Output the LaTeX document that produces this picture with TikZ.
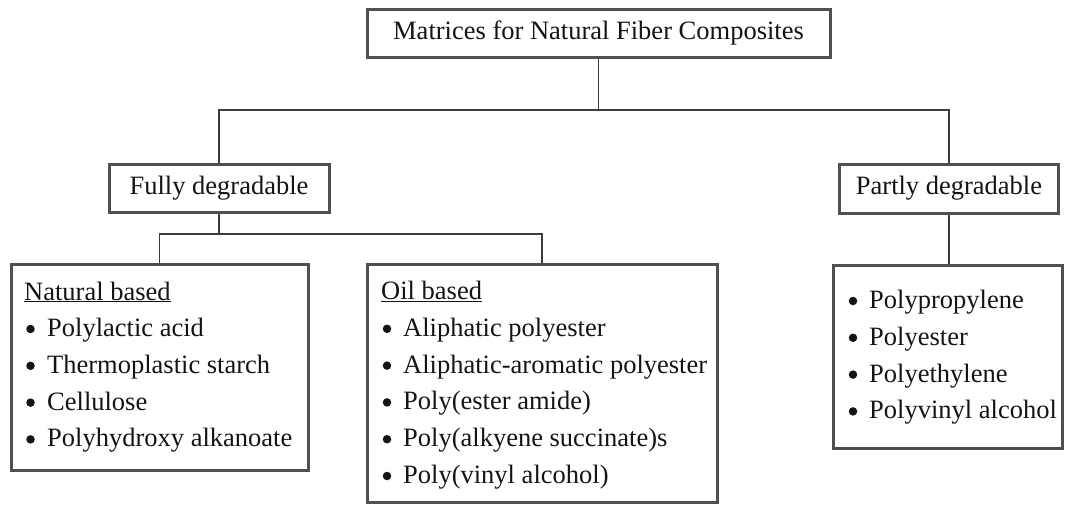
\documentclass[tikz,border=0pt]{standalone}
\usepackage{fontspec}
\setmainfont{Liberation Serif}
\definecolor{framegray}{RGB}{80,80,80}
\definecolor{linegray}{RGB}{60,60,60}
\definecolor{inktext}{RGB}{20,20,20}
\begin{document}
\begin{tikzpicture}[x=1pt,y=-1pt,
  every node/.style={font=\fontsize{26.5}{36.8}\selectfont, text=inktext},
  frame/.style={draw=framegray, line width=3pt, fill=white, inner sep=0pt},
  link/.style={draw=linegray, line width=1.8pt},
  entry/.style={anchor=base west, inner sep=0pt},
  bul/.style={circle, fill=inktext, minimum size=8.5pt, inner sep=0pt, yshift=7.5pt}]
\useasboundingbox (0,0) rectangle (1067,504);

% title and the two main categories
\node[frame, minimum width=463pt, minimum height=48pt] (root) at (598.5,33) {Matrices for Natural Fiber Composites};
\node[frame, minimum width=220pt, minimum height=48pt] (full) at (219,188) {Fully degradable};
\node[frame, minimum width=219pt, minimum height=49pt] (part) at (949,188.5) {Partly degradable};

% list boxes
\node[frame, minimum width=297pt, minimum height=206pt] (nat) at (159.5,367) {};
\node[frame, minimum width=350pt, minimum height=238pt] (oil) at (542,383) {};
\node[frame, minimum width=229pt, minimum height=183pt] (plist) at (947.5,356.5) {};

% junctions of the tree lines
\coordinate (j1) at (598.5,110);
\coordinate (j2) at (219,234);

\draw[link] (root.south) -- (j1);
\draw[link] (full.north) |- (j1);
\draw[link] (part.north) |- (j1);
\draw[link] (full.south) -- (j2);
\draw[link] (nat.north) |- (j2);
\draw[link] (oil.north) |- (j2);
\draw[link] (part.south) -- (part.south |- plist.north);

% natural based
\node[entry] (n0) at (24,300) {\underline{Natural based}};
\node[bul] (nb1) at (30.5,336.5) {};
\node[entry] (n1) at (47,336.5) {Polylactic acid};
\node[bul] (nb2) at (30.5,373.3) {};
\node[entry] (n2) at (47,373.3) {Thermoplastic starch};
\node[bul] (nb3) at (30.5,410.1) {};
\node[entry] (n3) at (47,410.1) {Cellulose};
\node[bul] (nb4) at (30.5,446.9) {};
\node[entry] (n4) at (47,446.9) {Polyhydroxy alkanoate};

% oil based
\node[entry] (o0) at (381,299.5) {\underline{Oil based}};
\node[bul] (ob1) at (387,336.3) {};
\node[entry] (o1) at (403,336.3) {Aliphatic polyester};
\node[bul] (ob2) at (387,373.1) {};
\node[entry] (o2) at (403,373.1) {Aliphatic-aromatic polyester};
\node[bul] (ob3) at (387,409.9) {};
\node[entry] (o3) at (403,409.9) {Poly(ester amide)};
\node[bul] (ob4) at (387,446.7) {};
\node[entry] (o4) at (403,446.7) {Poly(alkyene succinate)s};
\node[bul] (ob5) at (387,483.5) {};
\node[entry] (o5) at (403,483.5) {Poly(vinyl alcohol)};

% partly degradable list
\node[bul] (pb1) at (853,308.5) {};
\node[entry] (p1) at (869,308.5) {Polypropylene};
\node[bul] (pb2) at (853,345.3) {};
\node[entry] (p2) at (869,345.3) {Polyester};
\node[bul] (pb3) at (853,382.1) {};
\node[entry] (p3) at (869,382.1) {Polyethylene};
\node[bul] (pb4) at (853,418.9) {};
\node[entry] (p4) at (869,418.9) {Polyvinyl alcohol};
\end{tikzpicture}
\end{document}
